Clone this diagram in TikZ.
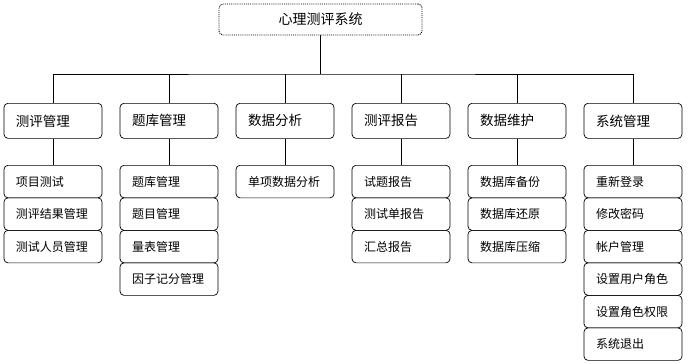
\documentclass[tikz,border=0pt]{standalone}
\usepackage{fontspec}
\setmainfont{Noto Sans CJK SC}
\usetikzlibrary{positioning}
\tikzset{
  rootbox/.style = {draw, densely dotted, line width=0.9pt, rounded corners=4pt,
                    minimum width=203pt, minimum height=31pt,
                    font=\fontsize{14}{16}\selectfont},
  modbox/.style  = {draw, rounded corners=4pt, minimum height=35pt, text width=74pt,
                    inner xsep=12pt, align=left, font=\fontsize{13.5}{15}\selectfont},
  subbox/.style  = {draw, rounded corners=4pt, minimum height=32.5pt, text width=74pt,
                    inner xsep=12pt, align=left, font=\fontsize{12}{14}\selectfont},
  link/.style    = {line width=0.7pt, black},
}

\begin{document}
\begin{tikzpicture}[x=1pt, y=-1pt, line width=0.7pt]
  \useasboundingbox (0,0) rectangle (688,364);

  \node[rootbox] (root) at (320.5,19.5) {心理测评系统};

  % modules and their sub items
  \foreach \i/\x/\name/\items in {
      1/53/测评管理/{项目测试,测评结果管理,测试人员管理},
      2/169/题库管理/{题库管理,题目管理,量表管理,因子记分管理},
      3/285/数据分析/{单项数据分析},
      4/401/测评报告/{试题报告,测试单报告,汇总报告},
      5/517/数据维护/{数据库备份,数据库还原,数据库压缩},
      6/633/系统管理/{重新登录,修改密码,帐户管理,设置用户角色,设置角色权限,系统退出}} {
    \node[modbox, anchor=north] (mod\i) at (\x,103) {\name};
    \foreach \t [count=\j] in \items {
      \node[subbox, anchor=north] (sub\i\j) at (\x,{165+(\j-1)*32.5}) {\t};
    }
    \draw[link] (mod\i.south) -- (sub\i1.north);
  }

  % bus from the root to the modules
  \coordinate (bus) at (root.south |- 0,74);
  \draw[link] (root.south) -- (bus);
  \draw[link] (mod1.north) |- (bus) -| (mod6.north);
  \foreach \i in {2,...,5}
    \draw[link] (mod\i.north) -- (mod\i.north |- bus);
\end{tikzpicture}
\end{document}
